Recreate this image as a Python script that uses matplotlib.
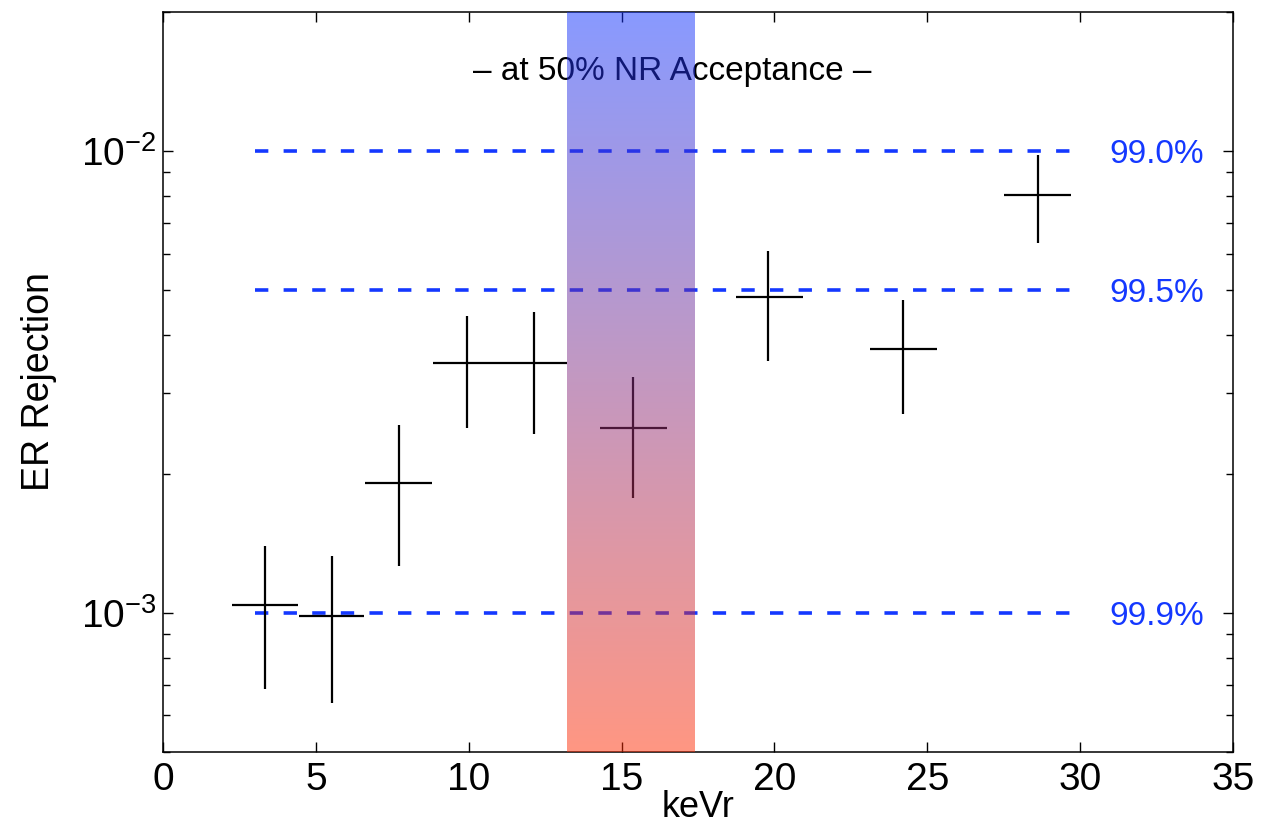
import numpy as np
import matplotlib
matplotlib.use("Agg")
import matplotlib.pyplot as plt
import matplotlib.transforms as mtransforms
from matplotlib.colors import LinearSegmentedColormap
from matplotlib.ticker import LogLocator, NullFormatter, FixedLocator

plt.rcParams['font.family'] = ['Liberation Sans', 'DejaVu Sans']
plt.rcParams['lines.scale_dashes'] = False
plt.rcParams['mathtext.fontset'] = 'custom'
plt.rcParams['mathtext.rm'] = 'Liberation Sans'
plt.rcParams['mathtext.it'] = 'Liberation Sans'

# Data
energy = [3.33, 5.52, 7.71, 9.93, 12.12, 15.39, 19.80, 24.20, 28.63]
energy_lo = [2.25, 4.44, 6.60, 8.82, 11.01, 14.28, 18.73, 23.14, 27.52]
energy_hi = [4.41, 6.57, 8.79, 11.01, 13.20, 16.50, 20.92, 25.33, 29.71]
rejection = [1.041e-3, 0.985e-3, 1.914e-3, 3.47e-3, 3.47e-3, 2.52e-3, 4.82e-3, 3.72e-3, 8.02e-3]
rej_hi = [1.397e-3, 1.33e-3, 2.547e-3, 4.39e-3, 4.48e-3, 3.235e-3, 6.09e-3, 4.75e-3, 9.8e-3]
rej_lo = [0.684e-3, 0.638e-3, 1.264e-3, 2.52e-3, 2.445e-3, 1.776e-3, 3.52e-3, 2.69e-3, 6.31e-3]

ref_levels = [1e-2, 5e-3, 1e-3]
ref_labels = ['99.0%', '99.5%', '99.9%']
ref_xrange = [3, 30]

band_range = [13.2, 17.4]
xticks = [0, 5, 10, 15, 20, 25, 30, 35]

fig = plt.figure(figsize=(12.62, 8.32), dpi=100)
ax = fig.add_axes([163/1262, 1-752/832, (1233-163)/1262, (752-12)/832])
ax.set_yscale('log')
ax.set_xlim(0, 35)
ax.set_ylim(5e-4, 2e-2)

# reference lines
for lvl, lab in zip(ref_levels, ref_labels):
    ax.plot(ref_xrange, [lvl, lvl], color='#1438ff', lw=2.6, dashes=(9.6, 11.0), zorder=2)
    ax.text(30.95, lvl, lab, color='#1438ff', fontsize=24, va='center_baseline', ha='left')

# data crosses
e = np.array(energy); r = np.array(rejection)
xerr = [e - np.array(energy_lo), np.array(energy_hi) - e]
yerr = [r - np.array(rej_lo), np.array(rej_hi) - r]
ax.errorbar(e, r, xerr=xerr, yerr=yerr, fmt='none', ecolor='black', elinewidth=1.6, capsize=0, zorder=3)

ax.text(0.4757, 0.920, '\u2013 at 50% NR Acceptance \u2013', transform=ax.transAxes,
        fontsize=24, ha='center', va='center', color='black', zorder=1)

# gradient band (drawn on top, semi-transparent), vertical gradient in axes fraction
cmap = LinearSegmentedColormap.from_list('band', [(255/255, 45/255, 5/255), (17/255, 51/255, 255/255)])
grad = np.linspace(0, 1, 256).reshape(-1, 1)
trans = mtransforms.blended_transform_factory(ax.transData, ax.transAxes)
im = ax.imshow(grad, cmap=cmap, aspect='auto', origin='lower',
               extent=[band_range[0], band_range[1], 0, 1], alpha=0.5, zorder=10,
               interpolation='bilinear', transform=trans)
ax.set_xlim(0, 35)
ax.set_ylim(5e-4, 2e-2)

ax.xaxis.set_major_locator(FixedLocator(xticks))
ax.set_xticklabels([str(t) for t in xticks])
ax.yaxis.set_major_locator(FixedLocator([1e-3, 1e-2]))
ax.set_yticklabels([r'$10^{-3}$', r'$10^{-2}$'])
ax.yaxis.set_minor_locator(LogLocator(base=10, subs=np.arange(2, 10)))
ax.yaxis.set_minor_formatter(NullFormatter())

ax.tick_params(which='both', direction='in', top=True, right=True, labelsize=28, width=1.0)
ax.tick_params(which='major', length=7)
ax.tick_params(which='minor', length=5)
ax.tick_params(axis='x', pad=7)
ax.tick_params(axis='y', pad=5)
for s in ax.spines.values():
    s.set_linewidth(1.1)

ax.set_xlabel('keVr', fontsize=26)
ax.xaxis.set_label_coords(0.5, -0.0514)
ax.set_ylabel('ER Rejection', fontsize=27)
ax.yaxis.set_label_coords(-0.099, 0.5)

fig.savefig('out.png', dpi=100)
